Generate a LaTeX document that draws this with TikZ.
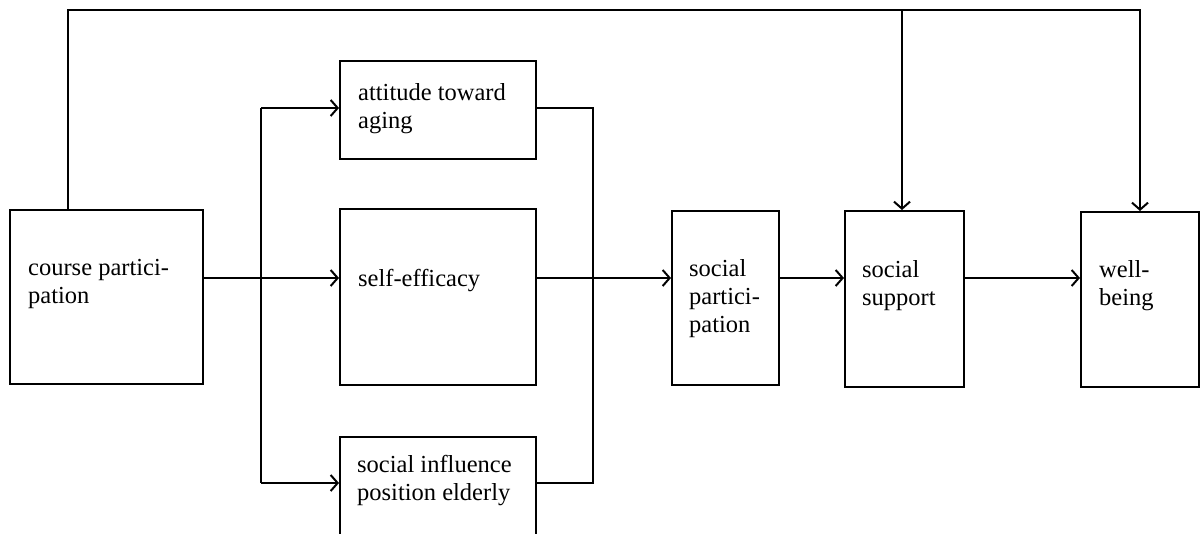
\documentclass[tikz,border=0pt]{standalone}
\usepackage{fontspec}
\setmainfont{Liberation Serif}
\usetikzlibrary{arrows.meta}
\begin{document}
\begin{tikzpicture}[x=1pt,y=-1pt,
  box/.style={draw,line width=1.8pt,inner sep=0pt,anchor=north west},
  lbl/.style={anchor=base west,inner sep=0pt,font=\fontsize{24.5}{28}\selectfont},
  wire/.style={line width=1.6pt},
  arr/.style={wire,-{Straight Barb[length=7pt,width=16pt,line width=2pt]}}]
\useasboundingbox (0,0) rectangle (1202,533);
% boxes
\node[box,minimum width=193pt,minimum height=174pt] (course) at (9,209) {};
\node[box,minimum width=196pt,minimum height=98pt] (att) at (339,60) {};
\node[box,minimum width=196pt,minimum height=176pt] (se) at (339,208) {};
\node[box,minimum width=196pt,minimum height=115pt] (inf) at (339,436) {};
\node[box,minimum width=107pt,minimum height=174pt] (sp) at (671,210) {};
\node[box,minimum width=119pt,minimum height=176pt] (sup) at (844,210) {};
\node[box,minimum width=118pt,minimum height=175pt] (wb) at (1080,211) {};
% labels
\node[lbl] (tcourse) at (28,275) {\begin{tabular}[t]{@{}l@{}}course partici-\\pation\end{tabular}};
\node[lbl] (tatt) at (358,100) {\begin{tabular}[t]{@{}l@{}}attitude toward\\aging\end{tabular}};
\node[lbl] (tse) at (358,286) {self-efficacy};
\node[lbl] (tinf) at (357,472) {\begin{tabular}[t]{@{}l@{}}social influence\\position elderly\end{tabular}};
\node[lbl] (tsp) at (689,276) {\begin{tabular}[t]{@{}l@{}}social\\partici-\\pation\end{tabular}};
\node[lbl] (tsup) at (862,277) {\begin{tabular}[t]{@{}l@{}}social\\support\end{tabular}};
\node[lbl] (twb) at (1099,277) {\begin{tabular}[t]{@{}l@{}}well-\\being\end{tabular}};
% junction coordinates
\coordinate (jt) at (261,108);
\coordinate (jm) at (261,278);
\coordinate (jb) at (261,483);
\coordinate (rb) at (593,483);
\coordinate (tl) at (68,10);
\coordinate (tm) at (902,10);
\coordinate (tr) at (1140,10);
% connectors
\draw[wire] (course.east |- jm) -- (jm);
\draw[arr] (jm) -- (se.west |- jm);
\draw[wire] (jt) -- (jb);
\draw[arr] (jt) -- (att.west |- jt);
\draw[arr] (jb) -- (inf.west |- jb);
\draw[wire] (att.east |- jt) -| (rb) -- (inf.east |- rb);
\draw[arr] (se.east |- jm) -- (sp.west |- jm);
\draw[arr] (sp.east |- jm) -- (sup.west |- jm);
\draw[arr] (sup.east |- jm) -- (wb.west |- jm);
\draw[arr] (course.north -| tl) -- (tl) -- (tr) -- (wb.north -| tr);
\draw[arr] (tm) -- (sup.north -| tm);
\end{tikzpicture}
\end{document}
